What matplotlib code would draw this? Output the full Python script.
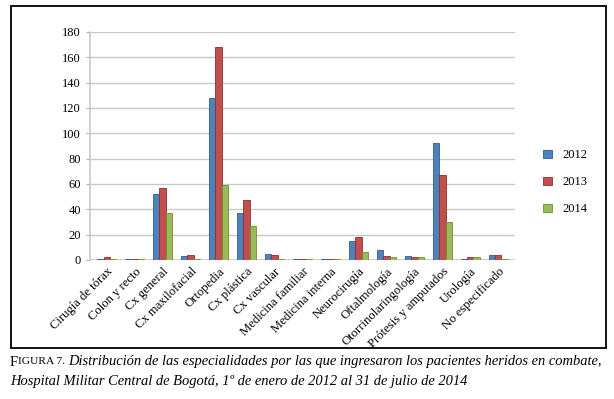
import numpy as np
import matplotlib.pyplot as plt
from matplotlib.patches import Rectangle

especialidades = ['Cirugía de tórax', 'Colon y recto', 'Cx general', 'Cx maxilofacial',
                  'Ortopedia', 'Cx plástica', 'Cx vascular', 'Medicina familiar',
                  'Medicina interna', 'Neurocirugía', 'Oftalmología',
                  'Otorrinolaringología', 'Prótesis y amputados', 'Urología',
                  'No especificado']
v2012 = [1, 1, 52, 3, 128, 37, 5, 0.5, 1, 15, 8, 3, 92, 1, 4]
v2013 = [2, 0.5, 57, 4, 168, 47, 4, 1, 1, 18, 3, 2, 67, 2, 4]
v2014 = [0.5, 0.5, 37, 0.5, 59, 27, 1, 0.5, 0.5, 6, 2, 2, 30, 2, 0.5]
anios = ['2012', '2013', '2014']
yticks = list(range(0, 181, 20))

colores = ['#4F81BD', '#C0504D', '#9BBB59']
bordes = ['#2E5C94', '#8E2E2B', '#6F8E35']

W, H = 614, 399
fig = plt.figure(figsize=(W / 100, H / 100), dpi=100)
serif = 'Liberation Serif'

# marco exterior
fig.patches.append(Rectangle((11 / W, 1 - 348 / H), 595 / W, 342 / H,
                             transform=fig.transFigure, fill=False,
                             edgecolor='black', lw=1.3))

ax = fig.add_axes([90 / W, 1 - 260 / H, 425 / W, 228 / H])
x = np.arange(len(especialidades))
bw = 0.23
for k, serie in enumerate([v2012, v2013, v2014]):
    ax.bar(x + (k - 1) * bw, serie, bw, color=colores[k], edgecolor=bordes[k],
           lw=0.6, label=anios[k], zorder=3)

ax.set_ylim(0, 180)
ax.set_xlim(-0.6, len(especialidades) - 0.4)
ax.set_yticks(yticks)
ax.yaxis.grid(True, color='#C8C8C8', lw=1, zorder=0)
for s in ['top', 'right', 'bottom']:
    ax.spines[s].set_visible(False)
ax.spines['left'].set_color('#C8C8C8')
ax.spines['left'].set_linewidth(1.2)
ax.axhline(0, color='#C8C8C8', lw=1.2, zorder=2)
ax.tick_params(axis='y', colors='#B0B0B0', length=3, labelcolor='black',
               labelsize=9)
ax.tick_params(axis='x', length=0, pad=4)
ax.set_xticks(x)
ax.set_xticklabels(especialidades, rotation=45, ha='right', rotation_mode='anchor',
                   fontsize=9.1, family=serif)
for t in ax.get_yticklabels():
    t.set_family(serif)

ax.legend(loc='center left', bbox_to_anchor=(1.04, 0.34), frameon=False,
          prop={'family': serif, 'size': 9}, handlelength=0.7, handleheight=0.7,
          labelspacing=1.2, handletextpad=0.8)

# leyenda de la figura
fig.canvas.draw()
r = fig.canvas.get_renderer()
x0, y1, y2 = 10 / W, 1 - 362 / H, 1 - 381 / H
t1 = fig.text(x0, y1, 'F', family=serif, fontsize=10.45, va='center')
e = t1.get_window_extent(r)
t2 = fig.text(e.x1 / W, y1, 'IGURA 7.', family=serif, fontsize=8.2, va='center')
e = t2.get_window_extent(r)
fig.text(e.x1 / W + 3 / W, y1,
         'Distribución de las especialidades por las que ingresaron los pacientes heridos en combate,',
         family=serif, fontsize=10.45, style='italic', va='center')
fig.text(x0, y2,
         'Hospital Militar Central de Bogotá, 1º de enero de 2012 al 31 de julio de 2014',
         family=serif, fontsize=10.45, style='italic', va='center')

fig.savefig('out.png', dpi=100)
